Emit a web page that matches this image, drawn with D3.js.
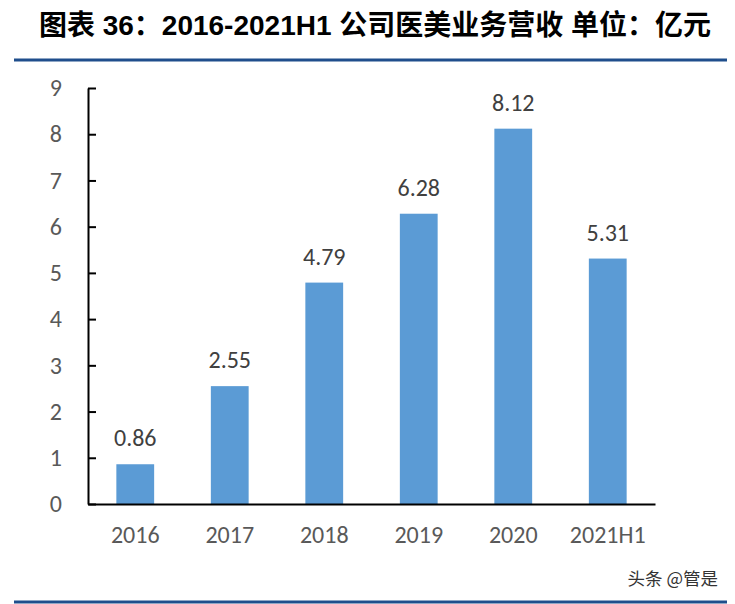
<!DOCTYPE html>
<html>
<head>
<meta charset="utf-8">
<script src="https://cdn.jsdelivr.net/npm/d3@7"></script>
<style>
  body { margin: 0; background: #fff; }
  .tick text { font-family: Calibri, Carlito, "Liberation Sans", "Noto Sans", sans-serif; }
</style>
</head>
<body>
<div id="chart"></div>
<script>
  // data
  let categories = ["2016", "2017", "2018", "2019", "2020", "2021H1"];
  let revenue = [0.86, 2.55, 4.79, 6.28, 8.12, 5.31];
  let yTicks = [0, 1, 2, 3, 4, 5, 6, 7, 8, 9];

  let width = 735;
  let height = 604;
  let margin = { top: 88, right: 80, bottom: 100, left: 88 };

  let svg = d3.select("#chart").append("svg")
              .attr("width", width)
              .attr("height", height);

  // title
  svg.append("text")
     .attr("x", 375)
     .attr("y", 35)
     .attr("text-anchor", "middle")
     .attr("font-family", "'Liberation Sans', 'Noto Sans CJK SC', sans-serif")
     .attr("font-weight", "bold")
     .attr("font-size", 28)
     .attr("fill", "#000")
     .text("图表 36：2016-2021H1 公司医美业务营收 单位：亿元");

  svg.append("line")
     .attr("x1", 14).attr("x2", 727)
     .attr("y1", 60).attr("y2", 60)
     .attr("stroke", "#1f4e8c")
     .attr("stroke-width", 3);

  svg.append("line")
     .attr("x1", 14).attr("x2", 727)
     .attr("y1", 602).attr("y2", 602)
     .attr("stroke", "#1f4e8c")
     .attr("stroke-width", 3);

  let plotW = 567;
  let plotH = 416;

  let x = d3.scaleBand()
            .domain(categories)
            .range([0, plotW])
            .paddingInner(0.6)
            .paddingOuter(0.3);

  let y = d3.scaleLinear()
            .domain([0, 9])
            .range([plotH, 0]);

  let g = svg.append("g")
             .attr("transform", "translate(" + margin.left + "," + margin.top + ")");

  // bars
  g.selectAll(".bar")
   .data(revenue)
   .enter()
   .append("rect")
   .attr("class", "bar")
   .attr("x", function(d, i) { return x(categories[i]); })
   .attr("y", function(d) { return y(d); })
   .attr("width", x.bandwidth())
   .attr("height", function(d) { return plotH - y(d); })
   .attr("fill", "#5b9bd5");

  // value labels
  g.selectAll(".val")
   .data(revenue)
   .enter()
   .append("text")
   .attr("class", "val")
   .attr("x", function(d, i) { return x(categories[i]) + x.bandwidth() / 2; })
   .attr("y", function(d) { return y(d) - 18; })
   .attr("text-anchor", "middle")
   .attr("font-family", "Calibri, Carlito, 'Liberation Sans', sans-serif")
   .attr("font-size", 24)
   .attr("fill", "#404040")
   .text(function(d) { return d.toFixed(2); });

  // y axis
  let yAxis = g.append("g")
               .call(d3.axisLeft(y).tickValues(yTicks).tickSize(-8).tickPadding(26).tickSizeOuter(0));
  yAxis.select(".domain").attr("stroke", "#000").attr("stroke-width", 2);
  yAxis.selectAll(".tick line").attr("stroke", "#000").attr("stroke-width", 2);
  yAxis.selectAll(".tick text").attr("font-size", 24).attr("fill", "#595959");

  // x axis
  let xAxis = g.append("g")
               .attr("transform", "translate(0," + plotH + ")")
               .call(d3.axisBottom(x).tickSize(0).tickPadding(22).tickSizeOuter(0));
  xAxis.select(".domain").attr("stroke", "#000").attr("stroke-width", 2);
  xAxis.selectAll(".tick text").attr("font-size", 24).attr("fill", "#595959");

  // watermark
  svg.append("text")
     .attr("x", 718)
     .attr("y", 585)
     .attr("text-anchor", "end")
     .attr("font-family", "'Noto Sans CJK SC', sans-serif")
     .attr("font-size", 17.5)
     .attr("fill", "#333")
     .text("头条 @管是");
</script>
</body>
</html>
